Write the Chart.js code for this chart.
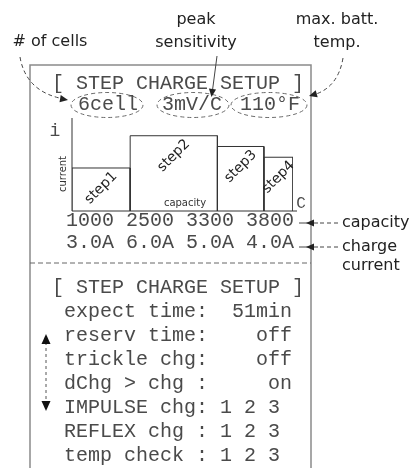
<!DOCTYPE html>
<html>
<head>
<meta charset="utf-8">
<script src="https://cdn.jsdelivr.net/npm/chart.js@4/dist/chart.umd.min.js"></script>
<style>
  html, body { margin: 0; padding: 0; background: #fff; }
  canvas { display: block; }
</style>
</head>
<body>
<canvas id="step-chart" width="414" height="468"></canvas>
<script>
/* Step charge data */
let stepNames = ['step1', 'step2', 'step3', 'step4']
let capacity = [1000, 2500, 3300, 3800]   // mAh where each step ends
let chargeCurrent = [3.0, 6.0, 5.0, 4.0]  // A for each step

/* Header of the first screen and the notes pointing at it */
let headerValues = ['6cell', '3mV/C', '110°F']
let headerNotes = [['# of cells'], ['peak', 'sensitivity'], ['max. batt.', 'temp.']]

/* Second screen */
let menuTitle = '[ STEP CHARGE SETUP ]'
let menuRows = [
    'expect time:  51min',
    'reserv time:    off',
    'trickle chg:    off',
    'dChg > chg :     on',
    'IMPULSE chg: 1 2 3',
    'REFLEX chg : 1 2 3',
    'temp check : 1 2 3'
]

let capacityLabels = capacity.map(c => String(c))
let currentLabels = chargeCurrent.map(a => a.toFixed(1) + 'A')

// courier-like where there is one, else the metric twin
const MONO = '"Courier New", "Nimbus Mono PS", "FreeMono", "Liberation Mono", monospace'
const LCD = '20px ' + MONO
const NOTE = '16px "DejaVu Sans"'
const lcdColor = '#4a4a4a'

// one closed outline per step, from the previous capacity to this one
function stepOutline(i, base) {
    let x0 = i == 0 ? 0 : capacity[i - 1]
    let x1 = capacity[i]
    let y = chargeCurrent[i]
    return [{x: x0, y: base}, {x: x0, y: y}, {x: x1, y: y}, {x: x1, y: base}]
}

const yMin = -1

let datasets = stepNames.map((name, i) => ({
    label: name,
    data: stepOutline(i, yMin),
    showLine: true,
    fill: false,
    borderColor: '#333',
    borderWidth: 1,
    pointRadius: 0,
    tension: 0
}))

function arrowHead(ctx, x, y, angle, size) {
    ctx.save()
    ctx.translate(x, y)
    ctx.rotate(angle)
    ctx.beginPath()
    ctx.moveTo(0, 0)
    ctx.lineTo(-size, -size * 0.45)
    ctx.lineTo(-size, size * 0.45)
    ctx.closePath()
    ctx.fill()
    ctx.restore()
}

function text(ctx, str, x, y, font, color, align) {
    ctx.font = font
    ctx.fillStyle = color
    ctx.textAlign = align || 'left'
    ctx.textBaseline = 'middle'
    ctx.fillText(str, x, y)
}

let screenPlugin = {
    id: 'screen',
    afterDraw(chart) {
        let ctx = chart.ctx
        let area = chart.chartArea
        let xs = chart.scales.x
        let ys = chart.scales.y
        ctx.save()

        // screen frame
        ctx.strokeStyle = '#8a8a8a'
        ctx.lineWidth = 1.5
        ctx.setLineDash([])
        ctx.beginPath()
        ctx.moveTo(30, 468); ctx.lineTo(30, 65); ctx.lineTo(311, 65); ctx.lineTo(311, 468)
        ctx.stroke()

        // axes
        ctx.strokeStyle = '#333'
        ctx.lineWidth = 1
        ctx.beginPath()
        ctx.moveTo(area.left, area.top)
        ctx.lineTo(area.left, area.bottom)
        ctx.lineTo(area.right + 4, area.bottom)
        ctx.stroke()

        text(ctx, 'i', 55, 131, '18px ' + MONO, lcdColor, 'center')
        text(ctx, 'C', 301, 204, '16px ' + MONO, lcdColor, 'center')
        text(ctx, 'capacity', 185, 203, '10px "DejaVu Sans"', '#333', 'center')
        ctx.save()
        ctx.translate(63, 174)
        ctx.rotate(-Math.PI / 2)
        text(ctx, 'current', 0, 0, '10px "DejaVu Sans"', '#333', 'center')
        ctx.restore()

        // step names, tilted inside each bar
        stepNames.forEach((name, i) => {
            let x0 = i == 0 ? 0 : capacity[i - 1]
            let cx = xs.getPixelForValue((x0 + capacity[i]) / 2)
            let cy = ys.getPixelForValue(chargeCurrent[i]) + 20
            ctx.save()
            ctx.translate(cx, cy)
            ctx.rotate(-45 * Math.PI / 180)
            text(ctx, name, 0, 0, '14px "DejaVu Sans"', '#222', 'center')
            ctx.restore()
        })

        // first screen text
        text(ctx, menuTitle, 52, 84, LCD, lcdColor)
        let headerX = [78, 162, 240]
        headerValues.forEach((v, i) => text(ctx, v, headerX[i], 105, LCD, lcdColor))
        text(ctx, capacityLabels.join(' '), 66, 221, LCD, lcdColor)
        text(ctx, currentLabels.join(' '), 66, 243, LCD, lcdColor)

        // dashed circles round the header values
        ctx.strokeStyle = '#6a6a6a'
        ctx.lineWidth = 1
        ctx.setLineDash([4, 3])
        let ellipses = [[107, 105, 36], [193, 105, 36], [269, 105, 38]]
        ellipses.forEach(e => {
            ctx.beginPath()
            ctx.ellipse(e[0], e[1], e[2], 12.5, 0, 0, Math.PI * 2)
            ctx.stroke()
        })

        // notes above the screen
        text(ctx, headerNotes[0][0], 50, 42, NOTE, '#222', 'center')
        text(ctx, headerNotes[1][0], 196, 20, NOTE, '#222', 'center')
        text(ctx, headerNotes[1][1], 196, 43, NOTE, '#222', 'center')
        text(ctx, headerNotes[2][0], 337, 20, NOTE, '#222', 'center')
        text(ctx, headerNotes[2][1], 337, 43, NOTE, '#222', 'center')

        ctx.fillStyle = '#222'
        ctx.strokeStyle = '#444'
        ctx.beginPath()
        ctx.moveTo(20, 57)
        ctx.quadraticCurveTo(26, 92, 64, 99)
        ctx.stroke()
        arrowHead(ctx, 68, 100, Math.atan2(7, 40), 8)

        ctx.setLineDash([])
        ctx.beginPath()
        ctx.moveTo(217, 56)
        ctx.lineTo(212, 94)
        ctx.stroke()
        arrowHead(ctx, 211.5, 97, Math.atan2(40, -5), 8)

        ctx.setLineDash([4, 3])
        ctx.beginPath()
        ctx.moveTo(343, 58)
        ctx.quadraticCurveTo(338, 88, 313, 95)
        ctx.stroke()
        arrowHead(ctx, 309, 96, Math.atan2(8, -28), 8)

        // notes at the right
        text(ctx, 'capacity', 342, 223, NOTE, '#222')
        text(ctx, 'charge', 342, 247, NOTE, '#222')
        text(ctx, 'current', 342, 266, NOTE, '#222')
        ;[223, 247].forEach(y => {
            ctx.setLineDash([4, 3])
            ctx.beginPath()
            ctx.moveTo(338, y); ctx.lineTo(318, y)
            ctx.stroke()
            ctx.setLineDash([])
            ctx.beginPath()
            ctx.moveTo(318, y); ctx.lineTo(299, y)
            ctx.stroke()
            arrowHead(ctx, 306, y, Math.PI, 8)
        })

        // separator between the two screens
        ctx.strokeStyle = '#666'
        ctx.setLineDash([5, 3])
        ctx.beginPath()
        ctx.moveTo(30, 263); ctx.lineTo(311, 263)
        ctx.stroke()

        // second screen
        text(ctx, menuTitle, 52, 288, LCD, lcdColor)
        menuRows.forEach((row, i) => text(ctx, row, 64, 312 + i * 23.9, LCD, lcdColor))

        // scroll arrow
        ctx.strokeStyle = '#555'
        ctx.setLineDash([3, 3])
        ctx.beginPath()
        ctx.moveTo(46, 342); ctx.lineTo(46, 402)
        ctx.stroke()
        ctx.fillStyle = '#111'
        arrowHead(ctx, 46, 334, -Math.PI / 2, 10)
        arrowHead(ctx, 46, 411, Math.PI / 2, 10)

        ctx.restore()
    }
}

let stepChart = new Chart(document.querySelector('#step-chart'), {
    type: 'scatter',
    data: { datasets: datasets },
    options: {
        responsive: false,
        animation: false,
        layout: { padding: { left: 72, right: 121, top: 118, bottom: 257 } },
        scales: {
            x: { type: 'linear', min: 0, max: capacity[capacity.length - 1], display: false },
            y: { min: yMin, max: 7.65, display: false }
        },
        plugins: {
            legend: { display: false },
            tooltip: { enabled: false }
        }
    },
    plugins: [screenPlugin]
})
</script>
</body>
</html>
